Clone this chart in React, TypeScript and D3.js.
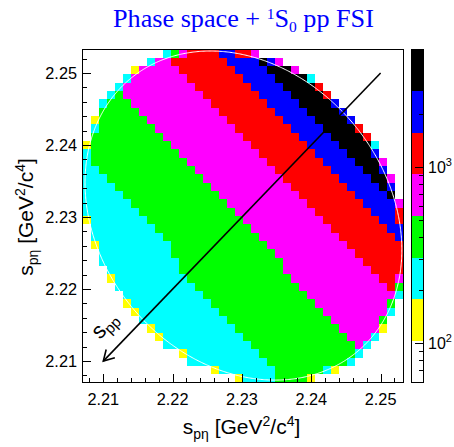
import React from "react";
import * as d3 from "d3";

// ---------- data ----------
const X_RANGE = [2.207, 2.2533];
const Y_RANGE = [2.207, 2.2533];
const N_BINS = 40;
const X_MAJOR = [2.21, 2.22, 2.23, 2.24, 2.25];
const Y_MAJOR = [2.21, 2.22, 2.23, 2.24, 2.25];
const TICK_LABELS = ["2.21", "2.22", "2.23", "2.24", "2.25"];
const MINOR_STEP = 0.002;
const Z_RANGE = [59.3, 4646];
const Z_MAJOR = [100, 1000];
const Z_MAJOR_EXP = ["2", "3"];
const Z_MINOR = [60, 70, 80, 90, 200, 300, 400, 500, 600, 700, 800, 900, 2000, 3000, 4000];
const PALETTE = ["#ffffff", "#ffff00", "#00ffff", "#00ff00", "#ff00ff", "#ff0000", "#0000ff", "#000000"];
// representative bin content for each colour band seen in the picture
const LEVEL_COUNTS: Record<string, number> = { y: 134, c: 231, g: 399, m: 689, r: 1189, b: 2050, k: 3537 };
// bins per row (top row first): "startColumn+level", a run lasts until the next start, "." = empty
const ROW_RUNS = [
  "10c 11g 12m 13r 17b 19r 21m 22.",
  "8c 9m 11r 18b 22k 23b 24m 25.",
  "6y 7m 12r 19b 23k 26m 27.",
  "5c 6m 13r 20b 24k 28c 29.",
  "4c 5m 14r 21b 25k 29r 30.",
  "3c 4g 5m 15r 22b 26k 30r 31.",
  "2c 3g 6m 16r 23b 27k 31b 32.",
  "2g 7m 17r 24b 28k 32b 33.",
  "1y 2g 8m 18r 25b 29k 33b 34.",
  "1c 2g 9m 19r 26b 30k 34r 35.",
  "1g 10m 20r 27b 31k 35r 36.",
  "0y 1g 11m 21r 28b 32k 36c 37.",
  "0c 1g 12m 22r 29b 33k 36b 37.",
  "0c 1g 13m 23r 30b 34k 37m 38.",
  "0c 2g 14m 24r 31b 35k 37b 38.",
  "0c 3g 15m 25r 32b 36k 38m 39.",
  "0c 4g 16m 26r 33b 37k 38b 39.",
  "0c 5g 17m 27r 34b 38k 39.",
  "0c 6g 18m 28r 35b 39m 40.",
  "0c 7g 19m 29r 36b 39r 40.",
  "0y 1c 8g 20m 30r 37b 39r 40.",
  "1c 9g 21m 31r 38b 40.",
  "1c 10g 22m 32r 39b 40.",
  "1y 2c 11g 23m 33r 40.",
  "2c 11g 24m 34r 40.",
  "2c 12g 25m 35r 40.",
  "3c 12g 25m 36r 40.",
  "3y 4c 13g 26m 37r 39m 40.",
  "4c 14g 27m 38r 39g 40.",
  "5c 15g 28m 39c 40.",
  "5y 6c 16g 29m 38g 39.",
  "6y 7c 17g 30m 38c 39.",
  "7c 18g 31m 37g 38.",
  "8y 9c 19g 32m 37y 38.",
  "9y 10c 20g 33m 36c 37.",
  "10c 21g 34m 35c 36.",
  "12y 13c 22g 34c 35.",
  "13c 23g 33c 34.",
  "16y 17c 24g 30c 31y 32.",
  "19y 20c 24g 28y 29.",
];
// kinematics of the Dalitz boundary (GeV)
const M_P = 0.93827;
const M_ETA = 0.54745;
const SQRT_S = 2.43929;
// s_pp arrow, data coordinates (tail, head)
const ARROW_FROM = [2.25, 2.25];
const ARROW_TO = [2.21, 2.21];

// ---------- layout ----------
const W = 454, H = 447;
const PL = 82.5, PR = 403.5, PT = 49.3, PB = 382.7;
const BAR_L = 410.7, BAR_R = 424.3;
const SANS = "'Liberation Sans', Arial, Helvetica, sans-serif";
const SERIF = "'Liberation Serif', 'Times New Roman', serif";

type Cell = { i: number; j: number; v: number };

function parseCells(): Cell[] {
  const cells: Cell[] = [];
  ROW_RUNS.forEach((row, r) => {
    const toks = row.trim().split(/\s+/).map((t) => ({ s: parseInt(t, 10), l: t.replace(/[0-9]/g, "") }));
    for (let k = 0; k < toks.length - 1; k++) {
      const { s, l } = toks[k];
      const e = toks[k + 1].s;
      if (l === ".") continue;
      for (let i = s; i < e; i++) cells.push({ i, j: N_BINS - 1 - r, v: LEVEL_COUNTS[l] });
    }
  });
  return cells;
}

function dalitz(n: number): [number, number][] {
  const m1 = M_P, m2 = M_ETA, m3 = M_P, M = SQRT_S;
  const xmin = (m1 + m2) ** 2, xmax = (M - m3) ** 2;
  const up: [number, number][] = [], lo: [number, number][] = [];
  for (let k = 0; k <= n; k++) {
    const t = (Math.PI * k) / n;
    const x = xmin + ((xmax - xmin) * (1 - Math.cos(t))) / 2;
    const mx = Math.sqrt(x);
    const E2 = (x - m1 * m1 + m2 * m2) / (2 * mx);
    const E3 = (M * M - x - m3 * m3) / (2 * mx);
    const p2 = Math.sqrt(Math.max(0, E2 * E2 - m2 * m2));
    const p3 = Math.sqrt(Math.max(0, E3 * E3 - m3 * m3));
    const s = (E2 + E3) ** 2;
    up.push([x, s - (p2 - p3) ** 2]);
    lo.push([x, s - (p2 + p3) ** 2]);
  }
  return up.concat(lo.reverse());
}

function AxisTitle({ transform, x, y }: { transform?: string; x?: number; y?: number }) {
  return (
    <text transform={transform} x={x} y={y} textAnchor="middle" fontFamily={SANS} fontSize={21} fill="#000">
      s<tspan fontSize={14} dy={5}>pη</tspan>
      <tspan dy={-5}> [GeV</tspan>
      <tspan fontSize={14} dy={-8}>2</tspan>
      <tspan dy={8}>/c</tspan>
      <tspan fontSize={14} dy={-8}>4</tspan>
      <tspan dy={8}>]</tspan>
    </text>
  );
}

export default function App() {
  const xs = d3.scaleLinear().domain(X_RANGE).range([PL, PR]);
  const ys = d3.scaleLinear().domain(Y_RANGE).range([PB, PT]);
  const zs = d3.scaleLog().domain(Z_RANGE).range([PB, PT]);
  const zIdx = d3.scaleLog().domain(Z_RANGE).range([0, PALETTE.length]);
  const colorOf = (v: number) => PALETTE[Math.max(0, Math.min(PALETTE.length - 1, Math.floor(zIdx(v))))];
  const bw = (X_RANGE[1] - X_RANGE[0]) / N_BINS;
  const bh = (Y_RANGE[1] - Y_RANGE[0]) / N_BINS;
  const cells = parseCells();

  const minorX = d3.range(Math.ceil(X_RANGE[0] / MINOR_STEP), Math.floor(X_RANGE[1] / MINOR_STEP) + 1).map((k) => k * MINOR_STEP);
  const minorY = d3.range(Math.ceil(Y_RANGE[0] / MINOR_STEP), Math.floor(Y_RANGE[1] / MINOR_STEP) + 1).map((k) => k * MINOR_STEP);

  const line = d3.line<[number, number]>().x((d) => xs(d[0])).y((d) => ys(d[1])).curve(d3.curveLinearClosed);
  const boundary = line(dalitz(400)) || "";

  const ax0 = xs(ARROW_FROM[0]), ay0 = ys(ARROW_FROM[1]);
  const ax1 = xs(ARROW_TO[0]), ay1 = ys(ARROW_TO[1]);
  const ang = Math.atan2(ay0 - ay1, ax0 - ax1);
  const hl = 12, ha = (30 * Math.PI) / 180;
  const head = `M${ax1 + hl * Math.cos(ang + ha)},${ay1 + hl * Math.sin(ang + ha)}L${ax1},${ay1}L${ax1 + hl * Math.cos(ang - ha)},${ay1 + hl * Math.sin(ang - ha)}`;

  const zEdges = d3.range(PALETTE.length + 1).map((k) => zIdx.invert(k));

  return (
    <svg width={W} height={H} style={{ position: "absolute", left: 0, top: 0, background: "#fff" }}>
      <defs>
        <clipPath id="frame">
          <rect x={PL} y={PT} width={PR - PL} height={PB - PT} />
        </clipPath>
      </defs>
      <text x={113} y={26.7} fill="#0000ff" fontFamily={SERIF} fontSize={26.2}>
        Phase space +{" "}
        <tspan fontSize={15.5} dy={-8}>1</tspan>
        <tspan dy={8}>S</tspan>
        <tspan fontSize={15.5} dy={5}>0</tspan>
        <tspan dy={-5}> pp FSI</tspan>
      </text>

      <g shapeRendering="crispEdges">
        {cells.map((c, k) => {
          const x0 = Math.round(xs(X_RANGE[0] + c.i * bw));
          const x1 = Math.round(xs(X_RANGE[0] + (c.i + 1) * bw));
          const y1 = Math.round(ys(Y_RANGE[0] + c.j * bh));
          const y0 = Math.round(ys(Y_RANGE[0] + (c.j + 1) * bh));
          return <rect key={k} x={x0} y={y0} width={x1 - x0} height={y1 - y0} fill={colorOf(c.v)} />;
        })}
      </g>

      <path d={boundary} fill="none" stroke="#ffffff" strokeWidth={1} clipPath="url(#frame)" />

      <line x1={ax0} y1={ay0} x2={ax1} y2={ay1} stroke="#000" strokeWidth={1.6} />
      <path d={head} fill="none" stroke="#000" strokeWidth={1.6} />
      <text transform={`translate(100,340) rotate(-46)`} fontFamily={SANS} fill="#000">
        <tspan fontSize={22}>s</tspan>
        <tspan fontSize={15} dy={4}>pp</tspan>
      </text>

      <rect x={PL} y={49.5} width={PR - PL} height={382.5 - 49.5} fill="none" stroke="#000" strokeWidth={1} shapeRendering="crispEdges" />

      <g stroke="#000" strokeWidth={1} shapeRendering="crispEdges">
        {minorX.map((v, k) => (
          <line key={"mx" + k} x1={Math.round(xs(v)) + 0.5} x2={Math.round(xs(v)) + 0.5} y1={382.5} y2={382.5 - 4.5} />
        ))}
        {X_MAJOR.map((v, k) => (
          <line key={"Mx" + k} x1={Math.round(xs(v)) + 0.5} x2={Math.round(xs(v)) + 0.5} y1={382.5} y2={382.5 - 8.5} />
        ))}
        {minorY.map((v, k) => (
          <line key={"my" + k} y1={Math.round(ys(v)) + 0.5} y2={Math.round(ys(v)) + 0.5} x1={PL} x2={PL + 4.5} />
        ))}
        {Y_MAJOR.map((v, k) => (
          <line key={"My" + k} y1={Math.round(ys(v)) + 0.5} y2={Math.round(ys(v)) + 0.5} x1={PL} x2={PL + 8.5} />
        ))}
      </g>
      <g fontFamily={SANS} fontSize={16.3} fill="#000">
        {X_MAJOR.map((v, k) => (
          <text key={"lx" + k} x={xs(v)} y={405} textAnchor="middle">{TICK_LABELS[k]}</text>
        ))}
        {Y_MAJOR.map((v, k) => (
          <text key={"ly" + k} x={77} y={ys(v) + 5.9} textAnchor="end">{TICK_LABELS[k]}</text>
        ))}
      </g>

      <AxisTitle x={241.5} y={434} />
      <AxisTitle transform="translate(33,217) rotate(-90)" />

      <g shapeRendering="crispEdges">
        {PALETTE.map((c, k) => {
          const yTop = Math.round(zs(zEdges[k + 1]));
          const yBot = Math.round(zs(zEdges[k]));
          return <rect key={"p" + k} x={Math.round(BAR_L)} y={yTop} width={Math.round(BAR_R) - Math.round(BAR_L)} height={yBot - yTop} fill={c} />;
        })}
        <rect x={Math.round(BAR_L) + 0.5} y={49.5} width={Math.round(BAR_R) - Math.round(BAR_L) - 1} height={333} fill="none" stroke="#000" />
        {Z_MINOR.map((v, k) => (
          <line key={"zm" + k} x1={Math.round(BAR_R) - 5} x2={Math.round(BAR_R)} y1={Math.round(zs(v)) + 0.5} y2={Math.round(zs(v)) + 0.5} stroke="#000" />
        ))}
        {Z_MAJOR.map((v, k) => (
          <line key={"zM" + k} x1={Math.round(BAR_R) - 9} x2={Math.round(BAR_R)} y1={Math.round(zs(v)) + 0.5} y2={Math.round(zs(v)) + 0.5} stroke="#000" />
        ))}
      </g>
      <g fontFamily={SANS} fontSize={16} fill="#000">
        {Z_MAJOR.map((v, k) => (
          <text key={"zl" + k} x={428} y={zs(v) + 6}>
            10<tspan fontSize={11} dy={-7}>{Z_MAJOR_EXP[k]}</tspan>
          </text>
        ))}
      </g>
    </svg>
  );
}
